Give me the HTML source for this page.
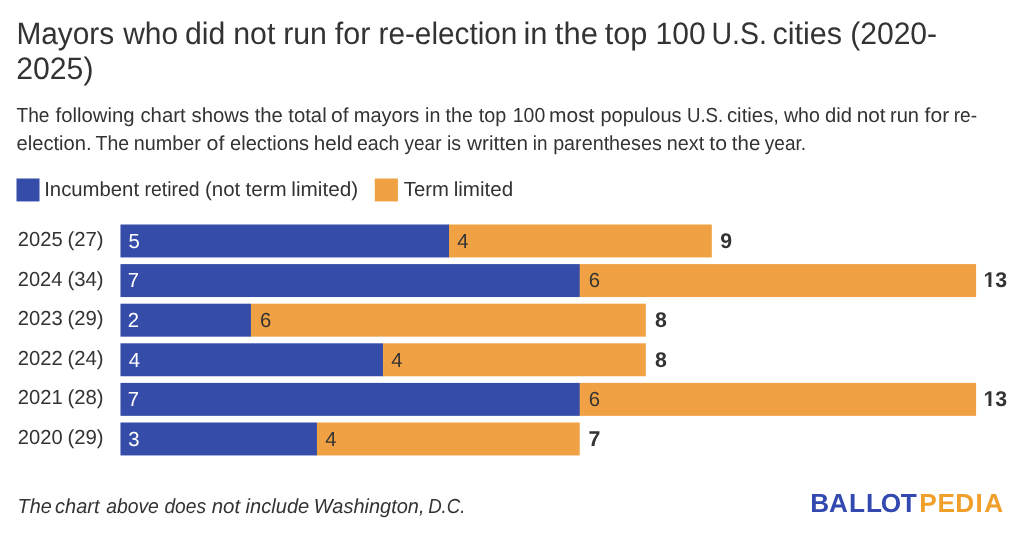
<!DOCTYPE html>
<html><head><meta charset="utf-8"><title>Mayors who did not run for re-election</title>
<style>
html,body{margin:0;padding:0;background:#fff;}
body{width:1024px;height:535px;overflow:hidden;}
svg{display:block;will-change:transform;text-rendering:geometricPrecision;font-family:'Liberation Sans', Arial, sans-serif;}
</style></head>
<body>
<svg width="1024" height="535" viewBox="0 0 1024 535">
<rect width="1024" height="535" fill="#ffffff"/>
<text y="44.00" font-size="31" fill="#333333"><tspan x="16.46" textLength="97.72" lengthAdjust="spacingAndGlyphs">Mayors</tspan> <tspan x="123.24" textLength="54.91" lengthAdjust="spacingAndGlyphs">who</tspan> <tspan x="184.93" textLength="40.32" lengthAdjust="spacingAndGlyphs">did</tspan> <tspan x="233.19" textLength="42.13" lengthAdjust="spacingAndGlyphs">not</tspan> <tspan x="283.19" textLength="43.78" lengthAdjust="spacingAndGlyphs">run</tspan> <tspan x="334.87" textLength="35.64" lengthAdjust="spacingAndGlyphs">for</tspan> <tspan x="378.52" textLength="138.91" lengthAdjust="spacingAndGlyphs">re-election</tspan> <tspan x="523.43" textLength="24.08" lengthAdjust="spacingAndGlyphs">in</tspan> <tspan x="554.83" textLength="43.04" lengthAdjust="spacingAndGlyphs">the</tspan> <tspan x="604.73" textLength="42.76" lengthAdjust="spacingAndGlyphs">top</tspan> <tspan x="655.52" textLength="50.06" lengthAdjust="spacingAndGlyphs">100</tspan> <tspan x="711.50" textLength="55.47" lengthAdjust="spacingAndGlyphs">U.S.</tspan> <tspan x="772.40" textLength="69.70" lengthAdjust="spacingAndGlyphs">cities</tspan> <tspan x="850.13" textLength="87.00" lengthAdjust="spacingAndGlyphs">(2020-</tspan></text>
<text y="79.00" font-size="31" fill="#333333"><tspan x="16.28" textLength="77.19" lengthAdjust="spacingAndGlyphs">2025)</tspan></text>
<text y="122.00" font-size="20.3" fill="#333333"><tspan x="16.47" textLength="32.98" lengthAdjust="spacingAndGlyphs">The</tspan> <tspan x="55.61" textLength="79.00" lengthAdjust="spacingAndGlyphs">following</tspan> <tspan x="140.44" textLength="45.21" lengthAdjust="spacingAndGlyphs">chart</tspan> <tspan x="191.53" textLength="57.70" lengthAdjust="spacingAndGlyphs">shows</tspan> <tspan x="254.69" textLength="28.21" lengthAdjust="spacingAndGlyphs">the</tspan> <tspan x="288.29" textLength="38.37" lengthAdjust="spacingAndGlyphs">total</tspan> <tspan x="331.02" textLength="17.55" lengthAdjust="spacingAndGlyphs">of</tspan> <tspan x="353.77" textLength="65.55" lengthAdjust="spacingAndGlyphs">mayors</tspan> <tspan x="425.09" textLength="15.29" lengthAdjust="spacingAndGlyphs">in</tspan> <tspan x="445.60" textLength="27.16" lengthAdjust="spacingAndGlyphs">the</tspan> <tspan x="478.80" textLength="27.53" lengthAdjust="spacingAndGlyphs">top</tspan> <tspan x="512.82" textLength="32.44" lengthAdjust="spacingAndGlyphs">100</tspan> <tspan x="549.01" textLength="45.45" lengthAdjust="spacingAndGlyphs">most</tspan> <tspan x="600.41" textLength="81.11" lengthAdjust="spacingAndGlyphs">populous</tspan> <tspan x="686.96" textLength="36.30" lengthAdjust="spacingAndGlyphs">U.S.</tspan> <tspan x="726.93" textLength="52.10" lengthAdjust="spacingAndGlyphs">cities,</tspan> <tspan x="783.93" textLength="36.00" lengthAdjust="spacingAndGlyphs">who</tspan> <tspan x="825.05" textLength="26.95" lengthAdjust="spacingAndGlyphs">did</tspan> <tspan x="856.72" textLength="28.94" lengthAdjust="spacingAndGlyphs">not</tspan> <tspan x="889.97" textLength="29.04" lengthAdjust="spacingAndGlyphs">run</tspan> <tspan x="924.60" textLength="24.55" lengthAdjust="spacingAndGlyphs">for</tspan> <tspan x="953.73" textLength="23.32" lengthAdjust="spacingAndGlyphs">re-</tspan></text>
<text y="150.00" font-size="20.3" fill="#333333"><tspan x="16.54" textLength="75.00" lengthAdjust="spacingAndGlyphs">election.</tspan> <tspan x="95.56" textLength="33.50" lengthAdjust="spacingAndGlyphs">The</tspan> <tspan x="133.69" textLength="67.04" lengthAdjust="spacingAndGlyphs">number</tspan> <tspan x="206.50" textLength="17.87" lengthAdjust="spacingAndGlyphs">of</tspan> <tspan x="230.05" textLength="79.08" lengthAdjust="spacingAndGlyphs">elections</tspan> <tspan x="313.77" textLength="38.96" lengthAdjust="spacingAndGlyphs">held</tspan> <tspan x="356.97" textLength="42.51" lengthAdjust="spacingAndGlyphs">each</tspan> <tspan x="404.55" textLength="36.96" lengthAdjust="spacingAndGlyphs">year</tspan> <tspan x="446.89" textLength="14.11" lengthAdjust="spacingAndGlyphs">is</tspan> <tspan x="467.13" textLength="60.91" lengthAdjust="spacingAndGlyphs">written</tspan> <tspan x="532.84" textLength="14.69" lengthAdjust="spacingAndGlyphs">in</tspan> <tspan x="553.13" textLength="108.69" lengthAdjust="spacingAndGlyphs">parentheses</tspan> <tspan x="666.79" textLength="37.36" lengthAdjust="spacingAndGlyphs">next</tspan> <tspan x="709.28" textLength="17.71" lengthAdjust="spacingAndGlyphs">to</tspan> <tspan x="731.89" textLength="28.42" lengthAdjust="spacingAndGlyphs">the</tspan> <tspan x="764.85" textLength="41.18" lengthAdjust="spacingAndGlyphs">year.</tspan></text>
<rect x="16.5" y="178.5" width="23" height="22.95" fill="#354ca8"/>
<text y="196.00" font-size="20.3" fill="#333333"><tspan x="44.22" textLength="94.82" lengthAdjust="spacingAndGlyphs">Incumbent</tspan> <tspan x="144.61" textLength="55.04" lengthAdjust="spacingAndGlyphs">retired</tspan> <tspan x="204.93" textLength="35.32" lengthAdjust="spacingAndGlyphs">(not</tspan> <tspan x="245.49" textLength="41.17" lengthAdjust="spacingAndGlyphs">term</tspan> <tspan x="291.30" textLength="66.89" lengthAdjust="spacingAndGlyphs">limited)</tspan></text>
<rect x="374.8" y="178.5" width="23.1" height="22.95" fill="#f0a143"/>
<text y="196.00" font-size="20.3" fill="#333333"><tspan x="403.74" textLength="45.09" lengthAdjust="spacingAndGlyphs">Term</tspan> <tspan x="453.71" textLength="59.52" lengthAdjust="spacingAndGlyphs">limited</tspan></text>
<text y="246.00" font-size="20.3" fill="#333333"><tspan x="17.78" textLength="44.86" lengthAdjust="spacingAndGlyphs">2025</tspan> <tspan x="67.44" textLength="36.23" lengthAdjust="spacingAndGlyphs">(27)</tspan></text>
<rect x="448.40" y="224.50" width="263.40" height="32.95" fill="#f0a143"/>
<rect x="120.46" y="224.50" width="328.54" height="32.95" fill="#354ca8"/>
<text x="128.49" y="247.70" font-size="20.3" fill="#ffffff">5</text>
<text x="457.23" y="247.70" font-size="20.3" fill="#333333">4</text>
<text x="720.36" y="247.70" font-size="21.3" fill="#333333" font-weight="bold">9</text>
<text y="286.00" font-size="20.3" fill="#333333"><tspan x="17.79" textLength="44.60" lengthAdjust="spacingAndGlyphs">2024</tspan> <tspan x="67.44" textLength="36.23" lengthAdjust="spacingAndGlyphs">(34)</tspan></text>
<rect x="579.10" y="264.10" width="397.00" height="32.95" fill="#f0a143"/>
<rect x="120.46" y="264.10" width="459.24" height="32.95" fill="#354ca8"/>
<text x="127.66" y="287.30" font-size="20.3" fill="#ffffff">7</text>
<text x="588.77" y="287.30" font-size="20.3" fill="#333333">6</text>
<text x="983.46" y="287.30" font-size="21.3" fill="#333333" font-weight="bold">13</text>
<rect x="983.80" y="283.83" width="4.58" height="3.77" fill="#fff"/>
<rect x="991.40" y="283.83" width="4.36" height="3.77" fill="#fff"/>
<text y="325.00" font-size="20.3" fill="#333333"><tspan x="17.78" textLength="44.90" lengthAdjust="spacingAndGlyphs">2023</tspan> <tspan x="67.44" textLength="36.23" lengthAdjust="spacingAndGlyphs">(29)</tspan></text>
<rect x="250.34" y="303.70" width="395.46" height="32.95" fill="#f0a143"/>
<rect x="120.46" y="303.70" width="130.48" height="32.95" fill="#354ca8"/>
<text x="127.68" y="326.90" font-size="20.3" fill="#ffffff">2</text>
<text x="260.01" y="326.90" font-size="20.3" fill="#333333">6</text>
<text x="655.12" y="326.90" font-size="21.3" fill="#333333" font-weight="bold">8</text>
<text y="365.00" font-size="20.3" fill="#333333"><tspan x="17.78" textLength="45.04" lengthAdjust="spacingAndGlyphs">2022</tspan> <tspan x="67.44" textLength="36.23" lengthAdjust="spacingAndGlyphs">(24)</tspan></text>
<rect x="382.34" y="343.30" width="263.46" height="32.95" fill="#f0a143"/>
<rect x="120.46" y="343.30" width="262.48" height="32.95" fill="#354ca8"/>
<text x="128.69" y="366.50" font-size="20.3" fill="#ffffff">4</text>
<text x="391.17" y="366.50" font-size="20.3" fill="#333333">4</text>
<text x="655.12" y="366.50" font-size="21.3" fill="#333333" font-weight="bold">8</text>
<text y="404.00" font-size="20.3" fill="#333333"><tspan x="17.78" textLength="45.01" lengthAdjust="spacingAndGlyphs">2021</tspan> <tspan x="67.44" textLength="36.23" lengthAdjust="spacingAndGlyphs">(28)</tspan></text>
<rect x="579.10" y="382.90" width="397.00" height="32.95" fill="#f0a143"/>
<rect x="120.46" y="382.90" width="459.24" height="32.95" fill="#354ca8"/>
<text x="127.66" y="406.10" font-size="20.3" fill="#ffffff">7</text>
<text x="588.77" y="406.10" font-size="20.3" fill="#333333">6</text>
<text x="983.46" y="406.10" font-size="21.3" fill="#333333" font-weight="bold">13</text>
<rect x="983.80" y="402.83" width="4.58" height="3.77" fill="#fff"/>
<rect x="991.40" y="402.83" width="4.36" height="3.77" fill="#fff"/>
<text y="444.00" font-size="20.3" fill="#333333"><tspan x="17.79" textLength="44.80" lengthAdjust="spacingAndGlyphs">2020</tspan> <tspan x="67.44" textLength="36.23" lengthAdjust="spacingAndGlyphs">(29)</tspan></text>
<rect x="316.34" y="422.50" width="263.36" height="32.95" fill="#f0a143"/>
<rect x="120.46" y="422.50" width="196.48" height="32.95" fill="#354ca8"/>
<text x="128.19" y="445.70" font-size="20.3" fill="#ffffff">3</text>
<text x="325.17" y="445.70" font-size="20.3" fill="#333333">4</text>
<text x="588.58" y="445.70" font-size="21.3" fill="#333333" font-weight="bold">7</text>
<text y="513.00" font-size="20.3" fill="#333333" font-style="italic"><tspan x="17.62" textLength="34.12" lengthAdjust="spacingAndGlyphs">The</tspan> <tspan x="55.05" textLength="44.46" lengthAdjust="spacingAndGlyphs">chart</tspan> <tspan x="106.17" textLength="52.65" lengthAdjust="spacingAndGlyphs">above</tspan> <tspan x="164.45" textLength="41.64" lengthAdjust="spacingAndGlyphs">does</tspan> <tspan x="211.66" textLength="28.43" lengthAdjust="spacingAndGlyphs">not</tspan> <tspan x="245.58" textLength="63.67" lengthAdjust="spacingAndGlyphs">include</tspan> <tspan x="313.77" textLength="110.75" lengthAdjust="spacingAndGlyphs">Washington,</tspan> <tspan x="428.13" textLength="37.32" lengthAdjust="spacingAndGlyphs">D.C.</tspan></text>
<text id="logo" y="512.00" font-size="26.2" font-weight="bold"><tspan x="810.25 828.95 848.95 865.95 880.73 900.81" fill="#3349b0">BALLOT</tspan><tspan x="919.35 937.45 955.35 975.45 984.35" fill="#f0a02a">PEDIA</tspan></text>
</svg>
</body></html>
